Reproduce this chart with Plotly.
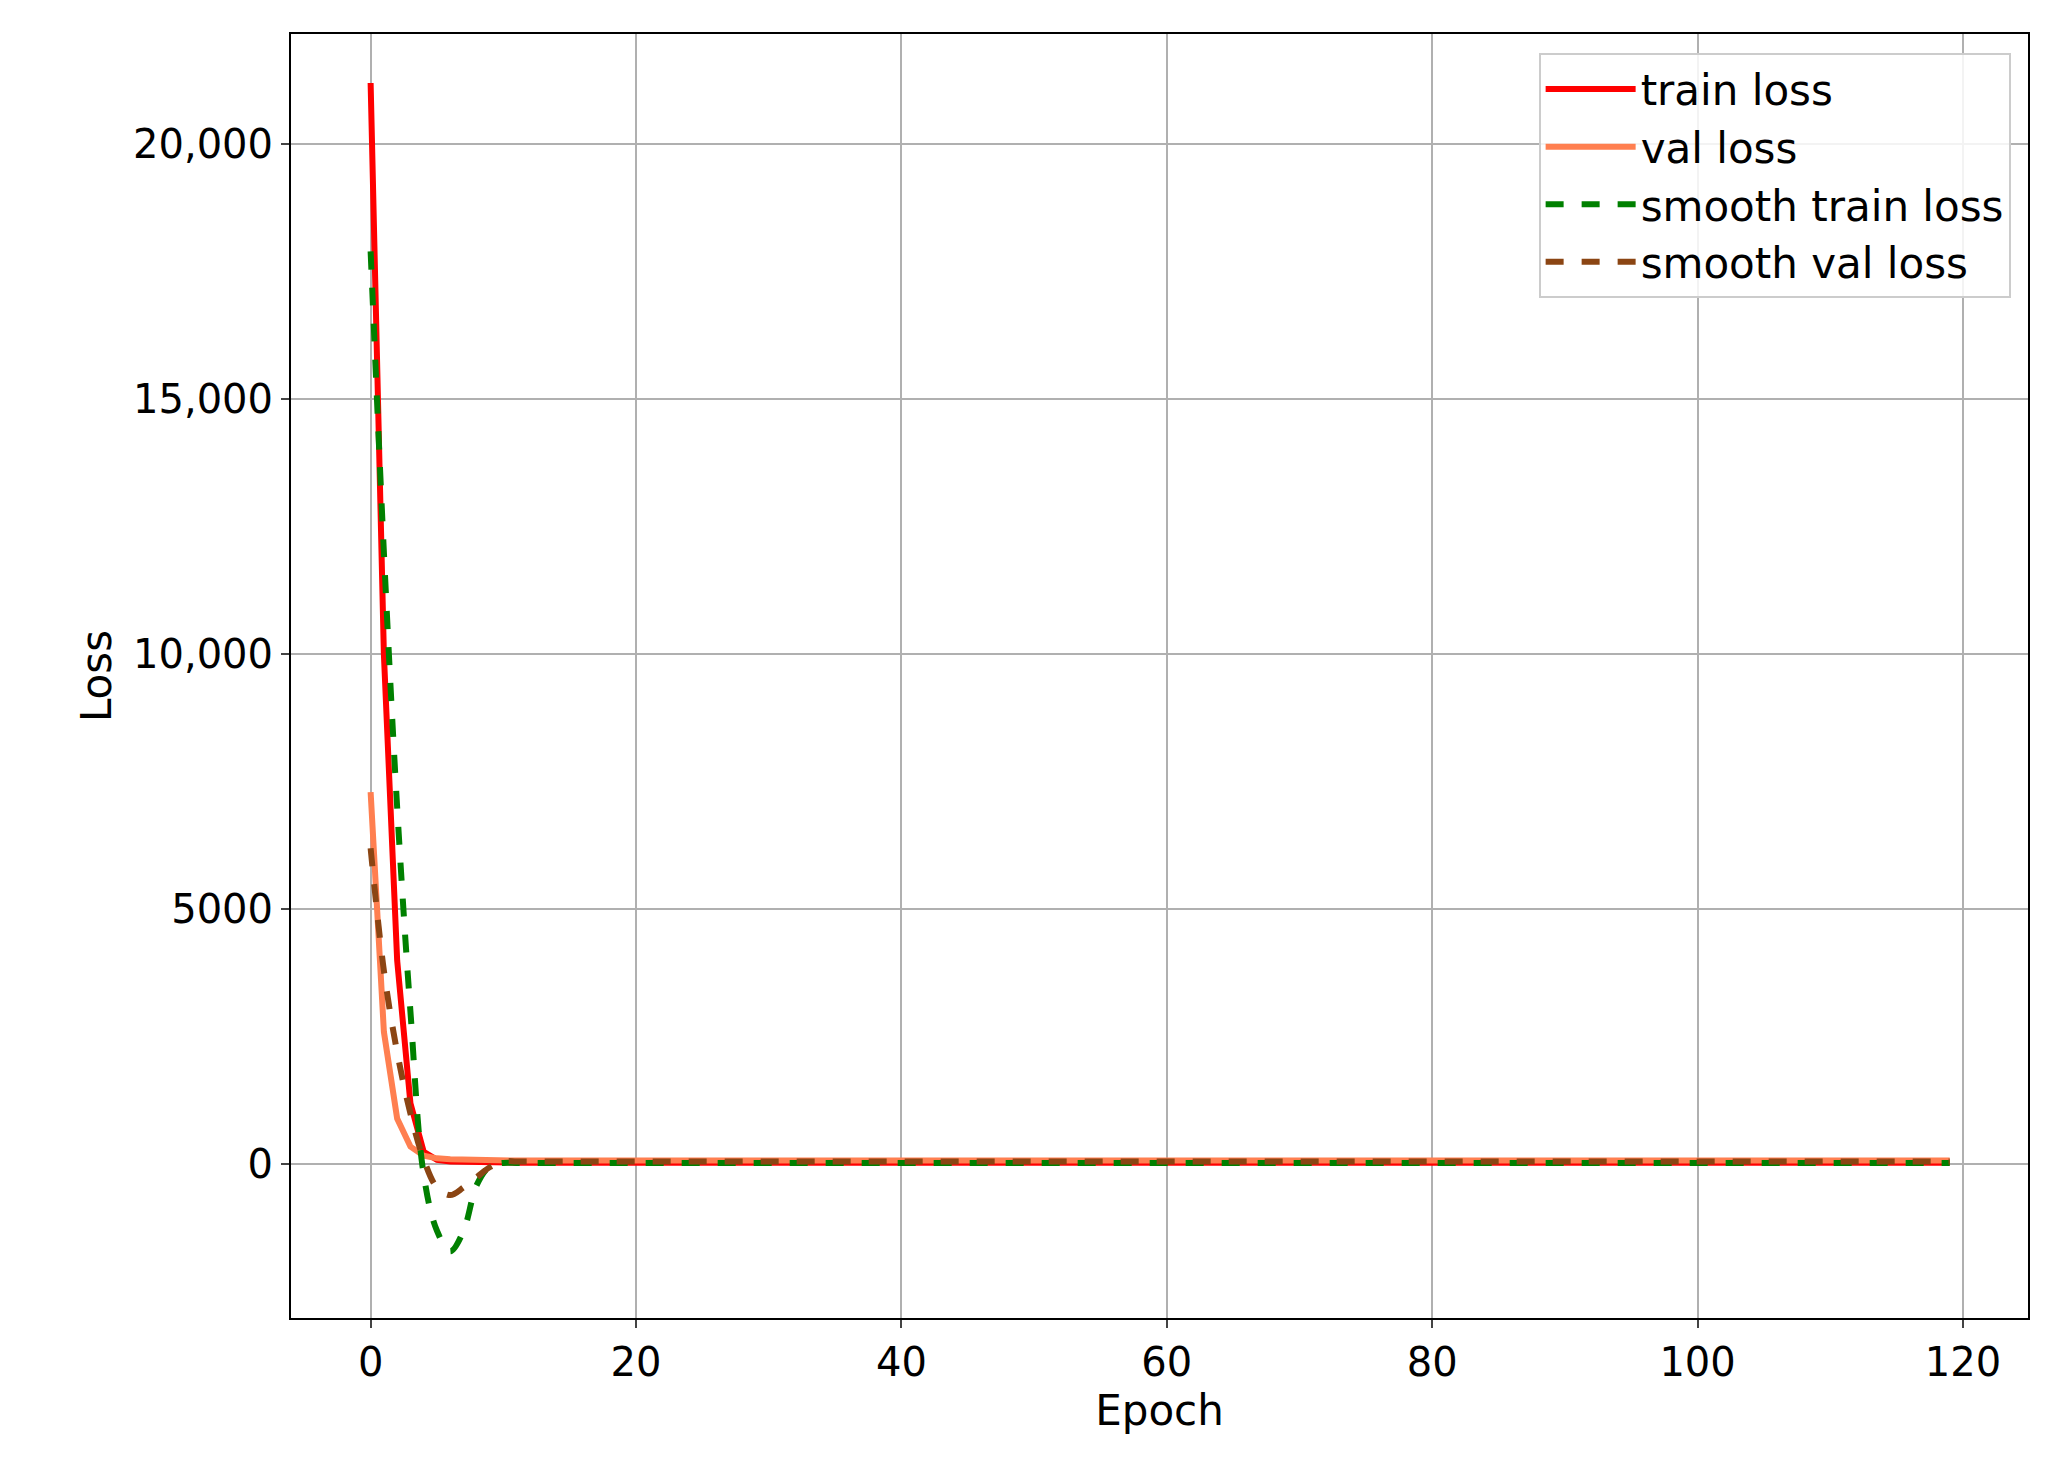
import plotly.graph_objects as go

epochs = list(range(120))
train_head = [21200, 10000, 4000, 1200, 250, 90, 60, 50, 45, 40]
val_head = [7300, 2600, 900, 350, 170, 120, 100, 90, 85, 80]
strain_head = [17900, 12000, 7000, 3000, -200, -1300, -1700, -1300, -400, -30]
sval_head = [6200, 3800, 2200, 1000, 100, -450, -600, -450, -250, -50]
train_loss = train_head + [35] * 110
val_loss = val_head + [75] * 110
smooth_train = strain_head + [30] * 110
smooth_val = sval_head + [60] * 110

fig = go.Figure()
fig.add_trace(go.Scatter(x=epochs, y=train_loss, mode="lines", name="train loss",
                         line=dict(color="red", width=6)))
fig.add_trace(go.Scatter(x=epochs, y=val_loss, mode="lines", name="val loss",
                         line=dict(color="#FF7F50", width=6)))
fig.add_trace(go.Scatter(x=epochs, y=smooth_train, mode="lines", name="smooth train loss",
                         line=dict(color="green", width=6, dash="dash", shape="spline")))
fig.add_trace(go.Scatter(x=epochs, y=smooth_val, mode="lines", name="smooth val loss",
                         line=dict(color="#8B4513", width=6, dash="dash", shape="spline")))

axis = dict(showline=True, linecolor="black", linewidth=2, mirror=True, ticks="outside",
            ticklen=8, tickwidth=2, showgrid=True, gridcolor="#b0b0b0", gridwidth=2,
            zeroline=False, tickfont=dict(size=40, color="black"))
fig.update_layout(
    width=2046, height=1484, paper_bgcolor="white", plot_bgcolor="white",
    font=dict(family="DejaVu Sans", color="black"),
    margin=dict(l=283, r=26, t=26, b=174),
    showlegend=True,
    legend=dict(x=0.99, y=0.985, xanchor="right", yanchor="top", bordercolor="#cccccc",
                borderwidth=2, font=dict(size=42), bgcolor="rgba(255,255,255,0.85)",
                itemwidth=90, tracegroupgap=4),
    xaxis=dict(axis, range=[-6, 124.9], tickvals=[0, 20, 40, 60, 80, 100, 120],
               title=dict(text="Epoch", font=dict(size=42), standoff=12)),
    yaxis=dict(axis, range=[-3010, 22160], tickvals=[0, 5000, 10000, 15000, 20000],
               ticktext=["0", "5000", "10,000", "15,000", "20,000"],
               title=dict(text="Loss", font=dict(size=42), standoff=8)),
)
fig.write_html("out.html")
